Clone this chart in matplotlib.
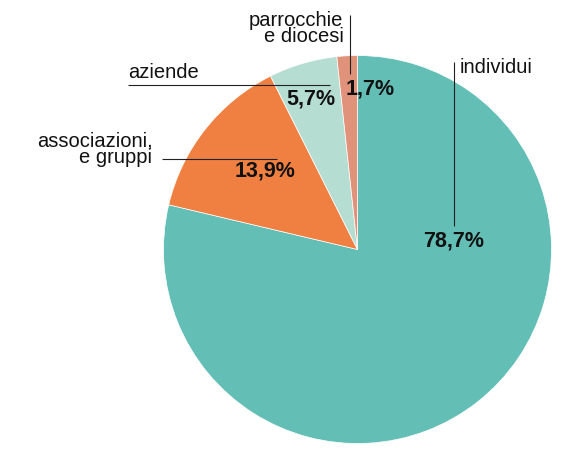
import matplotlib.pyplot as plt

# share of donors by type (%), clockwise from 12 o'clock
categories = ["individui", "associazioni,\ne gruppi", "aziende", "parrocchie\ne diocesi"]
shares = [78.7, 13.9, 5.7, 1.7]
share_labels = ["78,7%", "13,9%", "5,7%", "1,7%"]
colors = ["#63beb5", "#ef8042", "#b6ddd2", "#e0927a"]

W, H = 573, 450
CX, CY, R = 357.5, 249.5, 194.0


def px(x, y):
    # pixel position in the picture -> data coords (pie centre at 0,0, radius 1)
    return (x - CX) / R, (CY - y) / R


plt.rcParams["font.family"] = ["Liberation Sans", "DejaVu Sans"]

fig = plt.figure(figsize=(W / 100, H / 100), dpi=100)
ax = fig.add_axes([0, 0, 1, 1])
ax.pie(
    shares,
    colors=colors,
    startangle=90,
    counterclock=False,
    radius=1.0,
    wedgeprops=dict(edgecolor="white", linewidth=0.5),
)
ax.set_xlim(-CX / R, (W - CX) / R)
ax.set_ylim((CY - H) / R, CY / R)
ax.set_aspect("auto")
ax.axis("off")

# percentage labels (baseline positions)
pct_pos = [(454, 246.5), (265.5, 177), (310.5, 105), (370, 94.3)]
for text, (x, y) in zip(share_labels, pct_pos):
    ax.text(*px(x, y), text, ha="center", va="baseline",
            fontsize=15.5, fontweight="bold", color="#111111")

# category labels with leader lines (y = baseline of the last line)
cat_style = dict(fontsize=14.5, color="#111111", va="baseline", linespacing=0.85)
ax.text(*px(460, 73), categories[0], ha="left", **cat_style)
ax.text(*px(152.5, 163.3), categories[1], ha="right", multialignment="right", **cat_style)
ax.text(*px(128, 78), categories[2], ha="left", **cat_style)
ax.text(*px(343.5, 42.3), categories[3], ha="right", multialignment="right", **cat_style)

leaders = [
    [(454.3, 61.7), (454.3, 226)],
    [(161.7, 159.3), (277, 159.3)],
    [(128, 85), (330, 85)],
    [(350.5, 15), (350.5, 74)],
]
for (x0, y0), (x1, y1) in leaders:
    a, b = px(x0, y0)
    c, d = px(x1, y1)
    ax.plot([a, c], [b, d], color="#222222", lw=0.8, solid_capstyle="butt")

fig.savefig("out.png", dpi=100)
